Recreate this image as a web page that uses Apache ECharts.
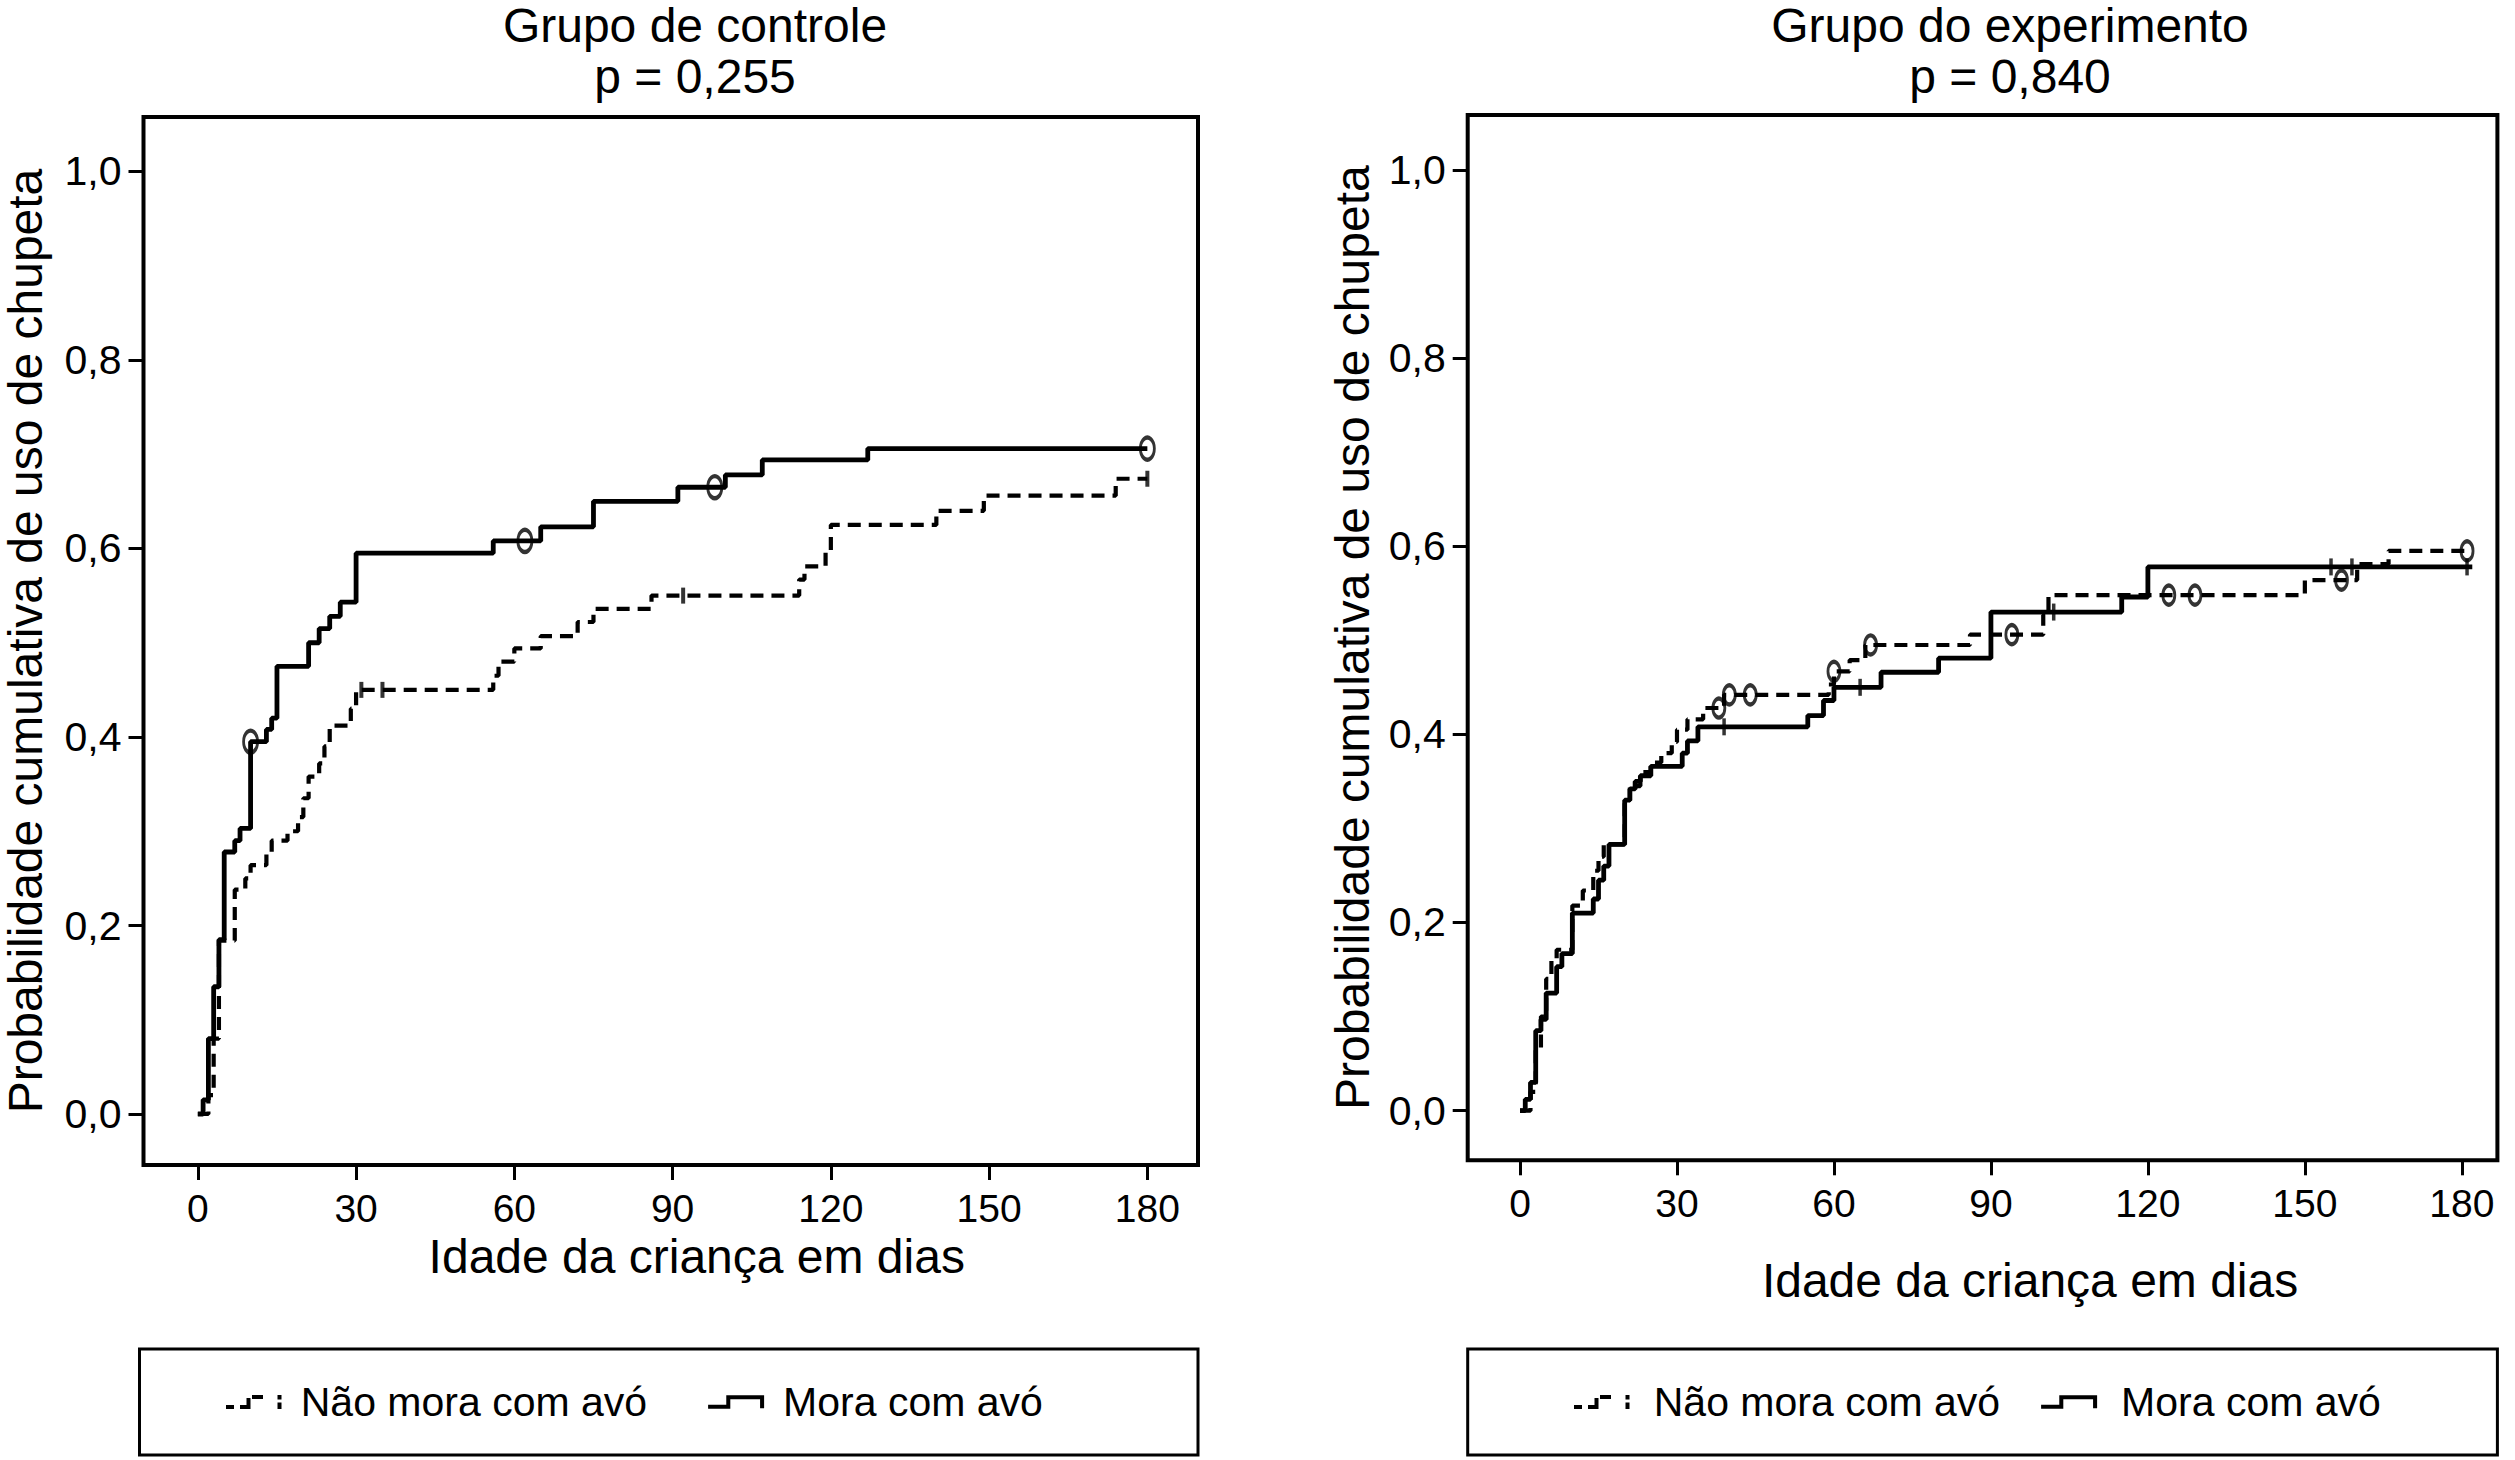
<!DOCTYPE html>
<html>
<head>
<meta charset="utf-8">
<script src="https://cdn.jsdelivr.net/npm/echarts@6/dist/echarts.min.js"></script>
<style>
html,body{margin:0;padding:0;background:#fff;}
#chart{width:2515px;height:1460px;}
</style>
</head>
<body>
<div id="chart"></div>
<script>
// ---------- text ----------
const seriesNames = ['Não mora com avó', 'Mora com avó'];
const panelTitles = [['Grupo de controle', 'p = 0,255'], ['Grupo do experimento', 'p = 0,840']];
const xAxisTitle = 'Idade da criança em dias';
const yAxisTitle = 'Probabilidade cumulativa de uso de chupeta';

// ---------- ticks ----------
const xTicks = [0, 30, 60, 90, 120, 150, 180];
const yTicks = [0, 0.2, 0.4, 0.6, 0.8, 1.0];

// ---------- Grupo de controle ----------
const ctrlNaoDays = [0,2,3,4,7,9,10,13,14,17,19,20,21,23,24,25,29,30,56,57,60,65,72,75,86,114,115,119,120,140,149,174,180];
const ctrlNaoProb = [0,0.02,0.08,0.184,0.238,0.25,0.264,0.276,0.29,0.30,0.315,0.335,0.358,0.372,0.39,0.412,0.43,0.45,0.465,0.48,0.494,0.507,0.522,0.536,0.55,0.567,0.581,0.597,0.625,0.64,0.656,0.674,0.674];
const ctrlMoraDays = [0,1,2,3,4,5,7,8,10,13,14,15,21,23,25,27,30,56,65,75,91,100,107,127,180];
const ctrlMoraProb = [0,0.015,0.08,0.135,0.185,0.278,0.29,0.303,0.395,0.408,0.42,0.475,0.50,0.515,0.528,0.543,0.595,0.608,0.623,0.65,0.665,0.678,0.694,0.706,0.706];
// censored observations
const ctrlNaoCensDays = [31,35,92,180];
const ctrlNaoCensProb = [0.45,0.45,0.55,0.674];
const ctrlMoraCensDays = [10,62,98,180];
const ctrlMoraCensProb = [0.395,0.608,0.665,0.706];

// ---------- Grupo do experimento ----------
const expNaoDays = [0,2,3,4,5,6,7,10,12,14,15,16,20,21,23,25,27,29,30,32,35,39,59,60,63,66,86,100,101,150,160,166,181];
const expNaoProb = [0,0.02,0.065,0.1,0.14,0.16,0.171,0.218,0.234,0.255,0.27,0.283,0.33,0.345,0.36,0.37,0.38,0.392,0.405,0.416,0.428,0.442,0.453,0.467,0.479,0.495,0.506,0.527,0.548,0.564,0.581,0.595,0.595];
const expMoraDays = [0,1,2,3,4,5,7,8,10,14,15,16,17,20,21,22,23,25,31,32,34,55,58,60,69,80,90,115,120,182];
const expMoraProb = [0,0.012,0.03,0.085,0.097,0.125,0.153,0.167,0.21,0.225,0.245,0.26,0.283,0.33,0.342,0.35,0.356,0.366,0.38,0.393,0.408,0.42,0.436,0.45,0.466,0.481,0.53,0.546,0.578,0.578];
const expNaoCensDays = [38,40,44,60,67,94,124,129,157,181];
const expNaoCensProb = [0.428,0.442,0.442,0.467,0.495,0.506,0.548,0.548,0.564,0.595];
const expMoraCensDays = [39,65,102,155,159,181];
const expMoraCensProb = [0.408,0.45,0.53,0.578,0.578,0.578];

// ---------- helpers ----------
const FONT = '"Liberation Sans", Arial, Helvetica, sans-serif';
const zip = (a, b) => a.map((v, i) => [v, b[i]]);
const fmtY = v => v.toFixed(1).replace('.', ',');

const panels = [
  {grid:{left:138, top:117, width:1060, height:1048}, xMax:189.6, yMin:-0.0541, yMax:1.0578, xMin:-10.3,
   xGap:63.5, xPad:52, yGap:94.5, titleX:695, legendLeft:226, legendGap:61, textPad:14,
   box:{x:139.5, y:1349, w:1058.5, h:106}},
  {grid:{left:1467.7, top:115, width:1029.7, height:1045.3}, xMax:186.8, yMin:-0.0528, yMax:1.0584, xMin:-10,
   xGap:96, xPad:95, yGap:91, titleX:2010, legendLeft:1574, legendGap:41, textPad:19,
   box:{x:1467.7, y:1349, w:1029.7, h:106}}
];

const dashedIcon = 'path://M0,10 L8,10 L8,14 L0,14 Z M14,10 L24.5,10 L24.5,14 L14,14 Z M20.5,3 L24.5,3 L24.5,14 L20.5,14 Z M26,0 L37,0 L37,4 L26,4 Z M51.5,0 L55.5,0 L55.5,4.5 L51.5,4.5 Z M51.5,7.5 L55.5,7.5 L55.5,14 L51.5,14 Z';
const solidIcon = 'path://M0,9.5 L22,9.5 L22,13.5 L0,13.5 Z M18,0 L22,0 L22,13.5 L18,13.5 Z M18,0 L55.5,0 L55.5,4 L18,4 Z M51.5,0 L55.5,0 L55.5,13 L51.5,13 Z';

const grids = [], xAxes = [], yAxes = [], legends = [], graphics = [];
panels.forEach((p, i) => {
  grids.push(Object.assign({show:true, borderColor:'#000', borderWidth:4, backgroundColor:'transparent', containLabel:false}, p.grid));
  xAxes.push({
    gridIndex:i, type:'value', min:p.xMin, max:p.xMax, position:'bottom',
    axisLine:{show:false, onZero:false}, splitLine:{show:false},
    axisTick:{show:true, customValues:xTicks, length:15, lineStyle:{color:'#000', width:3}},
    axisLabel:{customValues:xTicks, margin:24, fontSize:39, color:'#000', fontFamily:FONT},
    name:xAxisTitle, nameLocation:'middle', nameGap:p.xGap,
    nameTextStyle:{fontSize:48, color:'#000', fontFamily:FONT, padding:[0,0,0,p.xPad]}
  });
  yAxes.push({
    gridIndex:i, type:'value', min:p.yMin, max:p.yMax, position:'left',
    axisLine:{show:false, onZero:false}, splitLine:{show:false},
    axisTick:{show:true, customValues:yTicks, length:15, lineStyle:{color:'#000', width:3}},
    axisLabel:{customValues:yTicks, margin:22, fontSize:41, color:'#000', fontFamily:FONT, formatter:fmtY},
    name:yAxisTitle, nameLocation:'middle', nameGap:p.yGap, nameRotate:90,
    nameTextStyle:{fontSize:48, color:'#000', fontFamily:FONT}
  });
  legends.push({
    left:p.legendLeft, top:1379, orient:'horizontal', padding:0, itemGap:p.legendGap,
    itemWidth:56, itemHeight:14, selectedMode:false,
    itemStyle:{color:'#000', borderWidth:0},
    textStyle:{fontSize:41, color:'#000', fontFamily:FONT, lineHeight:46, padding:[0,0,0,p.textPad]},
    data:[{name:seriesNames[0], icon:dashedIcon}, {name:seriesNames[1], icon:solidIcon}]
  });
  graphics.push({type:'rect', shape:{x:p.box.x, y:p.box.y, width:p.box.w, height:p.box.h},
    style:{fill:'none', stroke:'#000', lineWidth:3}, silent:true});
  graphics.push({type:'text', x:p.titleX, y:25,
    style:{text:panelTitles[i][0], fontSize:48, fontFamily:FONT, fill:'#000', align:'center', verticalAlign:'middle'}});
  graphics.push({type:'text', x:p.titleX, y:76,
    style:{text:panelTitles[i][1], fontSize:48, fontFamily:FONT, fill:'#000', align:'center', verticalAlign:'middle'}});
});

function stepLine(name, gi, days, prob, dashed) {
  return {
    name:name, type:'line', xAxisIndex:gi, yAxisIndex:gi, step:'end',
    data:zip(days, prob), showSymbol:false, symbol:'none', silent:true,
    itemStyle:{color:'#000'},
    lineStyle:{color:'#000', width:dashed ? 4.2 : 4.8, type:dashed ? [13, 8] : 'solid'},
    z:3
  };
}
function circles(gi, days, prob, size) {
  return {type:'scatter', xAxisIndex:gi, yAxisIndex:gi, data:zip(days, prob), symbol:'circle',
    symbolSize:size, silent:true, z:4,
    itemStyle:{color:'rgba(0,0,0,0)', borderColor:'#000', borderWidth:3.5}};
}
function pluses(gi, days, prob, size) {
  return {type:'scatter', xAxisIndex:gi, yAxisIndex:gi, data:zip(days, prob), symbol:'rect',
    symbolSize:size, silent:true, z:4, itemStyle:{color:'#000'}};
}

const series = [
  stepLine(seriesNames[0], 0, ctrlNaoDays, ctrlNaoProb, true),
  stepLine(seriesNames[1], 0, ctrlMoraDays, ctrlMoraProb, false),
  pluses(0, ctrlNaoCensDays, ctrlNaoCensProb, [4, 16]),
  circles(0, ctrlMoraCensDays, ctrlMoraCensProb, [14, 22]),
  stepLine(seriesNames[0], 1, expNaoDays, expNaoProb, true),
  stepLine(seriesNames[1], 1, expMoraDays, expMoraProb, false),
  circles(1, expNaoCensDays, expNaoCensProb, [12, 19]),
  pluses(1, expMoraCensDays, expMoraCensProb, [3.5, 17])
];

const chart = echarts.init(document.getElementById('chart'), null, {renderer:'svg'});
chart.setOption({
  backgroundColor:'#fff',
  animation:false,
  textStyle:{fontFamily:FONT},
  grid:grids, xAxis:xAxes, yAxis:yAxes, legend:legends,
  graphic:graphics,
  series:series
});
</script>
</body>
</html>
